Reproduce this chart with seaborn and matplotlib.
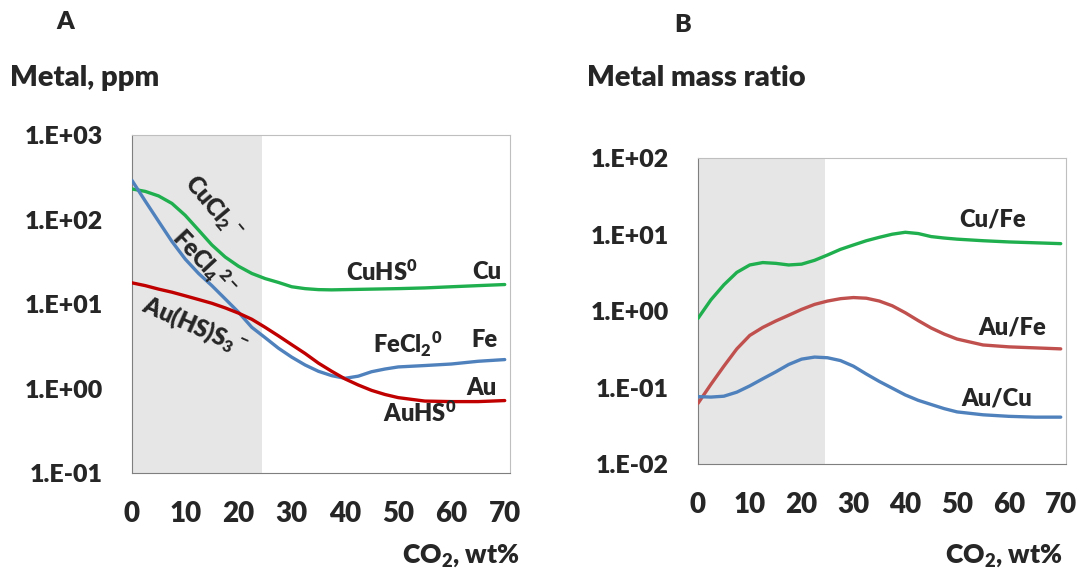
import pandas as pd
import numpy as np
import matplotlib.pyplot as plt
import matplotlib.ticker as mticker
import seaborn as sns

# CO2 content, wt%
co2 = [0, 2.5, 5, 7.5, 10, 12.5, 15, 17.5, 20, 22.5, 25, 27.5, 30, 32.5, 35, 37.5, 40, 42.5, 45, 47.5,
       50, 55, 60, 65, 70]

# panel A: metal concentrations, ppm
cu_ppm = [230, 215, 190, 155, 112, 75, 50, 36, 28, 23, 20, 18, 16, 15.2, 14.8, 14.7, 14.8, 14.9, 15, 15.1,
          15.2, 15.5, 16, 16.5, 17]
fe_ppm = [290, 165, 95, 55, 34, 23, 16.5, 11.5, 8, 5.3, 4.0, 3.0, 2.35, 1.9, 1.6, 1.42, 1.32, 1.4, 1.58, 1.7,
          1.8, 1.87, 1.95, 2.1, 2.2]
au_ppm = [17.8, 16.5, 15, 13.8, 12.5, 11.3, 10.2, 9, 7.8, 6.6, 5.3, 4.2, 3.3, 2.6, 2.0, 1.6, 1.3, 1.1, 0.95, 0.85,
          0.78, 0.71, 0.70, 0.70, 0.72]

# panel B: metal mass ratios
cu_fe = [0.8, 1.4, 2.2, 3.2, 4.0, 4.3, 4.2, 4.0, 4.1, 4.6, 5.4, 6.4, 7.3, 8.3, 9.2, 10.1, 10.7, 10.3, 9.4, 9.0,
         8.7, 8.3, 8.0, 7.8, 7.6]
au_fe = [0.062, 0.11, 0.19, 0.32, 0.48, 0.61, 0.74, 0.88, 1.05, 1.22, 1.35, 1.45, 1.5, 1.47, 1.35, 1.17, 0.95,
         0.75, 0.6, 0.5, 0.43, 0.36, 0.34, 0.33, 0.32]
au_cu = [0.076, 0.075, 0.077, 0.087, 0.105, 0.13, 0.16, 0.2, 0.235, 0.25, 0.245, 0.225, 0.19, 0.15, 0.12, 0.098,
         0.08, 0.068, 0.06, 0.053, 0.048, 0.044, 0.042, 0.041, 0.041]

sns.set_style("white")
plt.rcParams['font.family'] = ['Lato', 'DejaVu Sans']
plt.rcParams['font.weight'] = 'heavy'
plt.rcParams['mathtext.fontset'] = 'custom'
plt.rcParams['mathtext.rm'] = 'Lato:heavy'
plt.rcParams['mathtext.it'] = 'Lato:heavy'
plt.rcParams['mathtext.bf'] = 'Lato:heavy'

n = len(co2)
df_a = pd.DataFrame({'co2': co2 * 3,
                     'value': cu_ppm + fe_ppm + au_ppm,
                     'metal': ['Cu'] * n + ['Fe'] * n + ['Au'] * n})
df_b = pd.DataFrame({'co2': co2 * 3,
                     'value': cu_fe + au_fe + au_cu,
                     'metal': ['Cu/Fe'] * n + ['Au/Fe'] * n + ['Au/Cu'] * n})

fig = plt.figure(figsize=(10.88, 5.73), dpi=100)
ax_a = fig.add_axes([0.1213, 0.1745, 0.3475, 0.5899])
ax_b = fig.add_axes([0.6415, 0.1902, 0.3382, 0.5340])

green = '#1faf4e'
blue = '#4f81bd'

sns.lineplot(data=df_a, x='co2', y='value', hue='metal', ax=ax_a, legend=False, linewidth=2.4,
             palette={'Cu': green, 'Fe': blue, 'Au': '#c00000'}, zorder=3)
sns.lineplot(data=df_b, x='co2', y='value', hue='metal', ax=ax_b, legend=False, linewidth=2.4,
             palette={'Cu/Fe': green, 'Au/Fe': '#c0504d', 'Au/Cu': blue}, zorder=3)


def fmt(v, pos):
    k = int(round(np.log10(v)))
    return "1.E{:+03d}".format(k)


for ax, lo, hi in [(ax_a, -1, 3), (ax_b, -2, 2)]:
    ax.set_yscale('log')
    ax.set_ylim(10.0 ** lo, 10.0 ** hi)
    ax.set_xlim(0, 71)
    ax.axvspan(0, 24.5, color='#e6e6e6', zorder=0, lw=0)
    ax.yaxis.set_major_locator(mticker.FixedLocator([10.0 ** k for k in range(lo, hi + 1)]))
    ax.yaxis.set_minor_locator(mticker.NullLocator())
    ax.yaxis.set_major_formatter(mticker.FuncFormatter(fmt))
    ax.set_xticks(range(0, 71, 10))
    ax.tick_params(axis='both', direction='out', length=6, width=1, color='#7f7f7f')
    ax.tick_params(axis='x', labelsize=20, pad=14)
    ax.tick_params(axis='y', labelsize=18, pad=15)
    for side in ['left', 'bottom']:
        ax.spines[side].set_color('#7f7f7f')
    for side in ['top', 'right']:
        ax.spines[side].set_color('#bfbfbf')
    ax.set_xlabel('')
    ax.set_ylabel('')

lab = dict(fontsize=17, ha='center', va='center', zorder=4)
ax_a.text(15.2, 140, r'CuCl$_2$$^-$', rotation=-50, **lab)
ax_a.text(13.7, 31, r'FeCl$_4$$^{2-}$', rotation=-47, **lab)
ax_a.text(11.8, 5.4, r'Au(HS)S$_3$$^-$', rotation=-24, **lab)
ax_a.text(47, 24, r'CuHS$^0$', **lab)
ax_a.text(66.6, 24, 'Cu', **lab)
ax_a.text(51.8, 3.3, r'FeCl$_2$$^0$', **lab)
ax_a.text(66.2, 3.7, 'Fe', **lab)
ax_a.text(65.7, 1.02, 'Au', **lab)
ax_a.text(54, 0.51, r'AuHS$^0$', **lab)

ax_b.text(56.8, 15.5, 'Cu/Fe', **lab)
ax_b.text(60.7, 0.6, 'Au/Fe', **lab)
ax_b.text(57.6, 0.072, 'Au/Cu', **lab)

fig.text(0.06, 0.962, 'A', fontsize=18, ha='center', va='center')
fig.text(0.009, 0.864, 'Metal, ppm', fontsize=21, ha='left', va='center')
fig.text(0.627, 0.956, 'B', fontsize=18, ha='center', va='center')
fig.text(0.5395, 0.864, 'Metal mass ratio', fontsize=21, ha='left', va='center')
fig.text(0.478, 0.031, r'CO$_2$, wt%', fontsize=19, ha='right', va='center')
fig.text(0.977, 0.031, r'CO$_2$, wt%', fontsize=19, ha='right', va='center')

plt.savefig('out.png', dpi=100)
